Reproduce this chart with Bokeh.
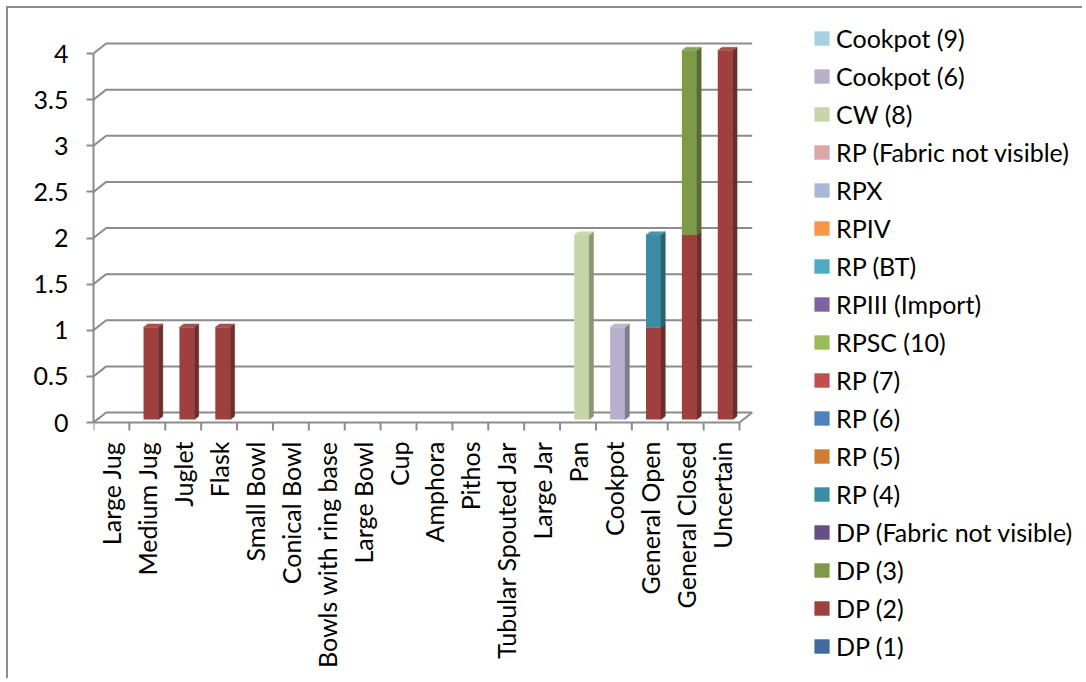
import math
from bokeh.plotting import figure
from bokeh.models import Range1d, FixedTicker, Legend, LegendItem, ColumnDataSource
from bokeh.core.properties import value
from bokeh.embed import file_html
from bokeh.resources import INLINE

# ---------------- data ----------------
CATEGORIES = ["Large Jug", "Medium Jug", "Juglet", "Flask", "Small Bowl", "Conical Bowl",
              "Bowls with ring base", "Large Bowl", "Cup", "Amphora", "Pithos",
              "Tubular Spouted Jar", "Large Jar", "Pan", "Cookpot", "General Open",
              "General Closed", "Uncertain"]

Y_TICKS = [0, 0.5, 1, 1.5, 2, 2.5, 3, 3.5, 4]
Y_TICK_LABELS = ["0", "0.5", "1", "1.5", "2", "2.5", "3", "3.5", "4"]

# series in stacking order (bottom -> top)
SERIES_NAMES = ["DP (1)", "DP (2)", "DP (3)", "DP (Fabric not visible)", "RP (4)", "RP (5)",
                "RP (6)", "RP (7)", "RPSC (10)", "RPIII (Import)", "RP (BT)", "RPIV", "RPX",
                "RP (Fabric not visible)", "CW (8)", "Cookpot (6)", "Cookpot (9)"]

DP_1 = [0, 0, 0, 0, 0, 0, 0, 0, 0, 0, 0, 0, 0, 0, 0, 0, 0, 0]
DP_2 = [0, 1, 1, 1, 0, 0, 0, 0, 0, 0, 0, 0, 0, 0, 0, 1, 2, 4]
DP_3 = [0, 0, 0, 0, 0, 0, 0, 0, 0, 0, 0, 0, 0, 0, 0, 0, 2, 0]
DP_FNV = [0, 0, 0, 0, 0, 0, 0, 0, 0, 0, 0, 0, 0, 0, 0, 0, 0, 0]
RP_4 = [0, 0, 0, 0, 0, 0, 0, 0, 0, 0, 0, 0, 0, 0, 0, 1, 0, 0]
RP_5 = [0, 0, 0, 0, 0, 0, 0, 0, 0, 0, 0, 0, 0, 0, 0, 0, 0, 0]
RP_6 = [0, 0, 0, 0, 0, 0, 0, 0, 0, 0, 0, 0, 0, 0, 0, 0, 0, 0]
RP_7 = [0, 0, 0, 0, 0, 0, 0, 0, 0, 0, 0, 0, 0, 0, 0, 0, 0, 0]
RPSC_10 = [0, 0, 0, 0, 0, 0, 0, 0, 0, 0, 0, 0, 0, 0, 0, 0, 0, 0]
RPIII_IMPORT = [0, 0, 0, 0, 0, 0, 0, 0, 0, 0, 0, 0, 0, 0, 0, 0, 0, 0]
RP_BT = [0, 0, 0, 0, 0, 0, 0, 0, 0, 0, 0, 0, 0, 0, 0, 0, 0, 0]
RPIV = [0, 0, 0, 0, 0, 0, 0, 0, 0, 0, 0, 0, 0, 0, 0, 0, 0, 0]
RPX = [0, 0, 0, 0, 0, 0, 0, 0, 0, 0, 0, 0, 0, 0, 0, 0, 0, 0]
RP_FNV = [0, 0, 0, 0, 0, 0, 0, 0, 0, 0, 0, 0, 0, 0, 0, 0, 0, 0]
CW_8 = [0, 0, 0, 0, 0, 0, 0, 0, 0, 0, 0, 0, 0, 2, 0, 0, 0, 0]
COOKPOT_6 = [0, 0, 0, 0, 0, 0, 0, 0, 0, 0, 0, 0, 0, 0, 1, 0, 0, 0]
COOKPOT_9 = [0, 0, 0, 0, 0, 0, 0, 0, 0, 0, 0, 0, 0, 0, 0, 0, 0, 0]

SERIES_VALUES = [DP_1, DP_2, DP_3, DP_FNV, RP_4, RP_5, RP_6, RP_7, RPSC_10, RPIII_IMPORT,
                 RP_BT, RPIV, RPX, RP_FNV, CW_8, COOKPOT_6, COOKPOT_9]

COLORS = ["#3F6B9F", "#9E413E", "#7E9A48", "#664F86", "#3B8CA4", "#CF7E38", "#4F81BD",
          "#C0504D", "#9BBB59", "#8064A2", "#4BACC6", "#F79646", "#A7B9D9", "#D9A7A6",
          "#C6D6AA", "#B8AFCB", "#A6D1DE"]

# ---------------- layout / style ----------------
FONT = "Lato"
FSIZE = "25px"
GRID = "#8C8C8C"
W, H = 1076, 672
FL = 85           # frame left (figure px) -> y axis line
FB = 414          # figure px of value 0 (floor front edge)
n = len(CATEGORIES)
PX_X = 646.0 / n  # px per category
PX_Y = 92.25      # px per unit
x0 = -0.5
x1 = x0 + (W - FL) / PX_X
y0 = -(H - FB) / PX_Y
y1 = FB / PX_Y

# pseudo-3D offsets
DX, DY = 12.7 / PX_X, 10.0 / PX_Y          # wall depth
BW = 15.0 / PX_X                            # bar front width
BDX, BDY = 3.7 / PX_X, 3.0 / PX_Y          # bar position in depth
DDX, DDY = 4.3 / PX_X, 3.3 / PX_Y          # bar depth
TICK = 8 / PX_Y
LABEL_OFF = 19 / PX_Y


def shade(hexcol, f):
    r, g, b = int(hexcol[1:3], 16), int(hexcol[3:5], 16), int(hexcol[5:7], 16)
    if f < 1:
        r, g, b = int(r * f), int(g * f), int(b * f)
    else:
        r, g, b = [int(c + (255 - c) * (f - 1)) for c in (r, g, b)]
    return "#%02X%02X%02X" % (r, g, b)


p = figure(width=W, height=H, x_range=Range1d(x0, x1), y_range=Range1d(y0, y1),
           output_backend="svg", toolbar_location=None, x_axis_location=None,
           min_border_left=FL, min_border_top=0, min_border_bottom=0, min_border_right=0)
p.outline_line_color = None
p.grid.visible = False
p.background_fill_color = "white"
p.border_fill_color = "white"
p.styles = {"margin-left": "8px", "margin-top": "8px", "box-shadow": "-2px -2px 0 0 #8C8C8C"}

# back wall grid lines + floor + category axis line and ticks
wall_xs = [[x0, x0 + DX, x0 + n + DX] for v in Y_TICKS]
wall_ys = [[v, v + DY, v + DY] for v in Y_TICKS]
wall_xs.append([x0 + n + DX, x0 + n])
wall_ys.append([DY, 0])
wall_xs.append([x0, x0 + n])
wall_ys.append([0, 0])
for i in range(n + 1):
    wall_xs.append([x0 + i, x0 + i])
    wall_ys.append([0, -TICK])
p.multi_line(wall_xs, wall_ys, line_color=GRID, line_width=2)

# bars
cum = [0.0] * n
totals = [sum(col) for col in zip(*SERIES_VALUES)]
renderers = []
side_xs, side_ys, side_c = [], [], []
top_xs, top_ys, top_c = [], [], []
for name, vals, col in zip(SERIES_NAMES, SERIES_VALUES, COLORS):
    d = dict(x=[], bottom=[], top=[])
    for i, v in enumerate(vals):
        b = cum[i]
        t = b + v
        xc = i + BDX
        d["x"].append(xc)
        d["bottom"].append(b + BDY)
        d["top"].append(t + BDY)
        if v > 0:
            xl, xr = xc - BW / 2, xc + BW / 2
            side_xs.append([xr, xr + DDX, xr + DDX, xr])
            side_ys.append([b + BDY, b + BDY + DDY, t + BDY + DDY, t + BDY])
            side_c.append(shade(col, 0.7))
            if t == totals[i]:
                top_xs.append([xl, xr, xr + DDX, xl + DDX])
                top_ys.append([t + BDY, t + BDY, t + BDY + DDY, t + BDY + DDY])
                top_c.append(shade(col, 1.08))
        cum[i] = t
    r = p.vbar(x="x", width=BW, bottom="bottom", top="top", source=ColumnDataSource(d),
               fill_color=col, line_color=None)
    renderers.append(r)

p.patches(side_xs, side_ys, fill_color=side_c, line_color=side_c, line_width=0.5)
p.patches(top_xs, top_ys, fill_color=top_c, line_color=top_c, line_width=0.5)

# category labels (vertical, reading bottom-to-top)
p.text(x=list(range(n)), y=[-LABEL_OFF] * n, text=CATEGORIES, angle=math.pi / 2,
       text_align="right", text_baseline="middle", text_font=value(FONT),
       text_font_size=FSIZE, text_color="black")

# value axis
ya = p.yaxis[0]
ya.ticker = FixedTicker(ticks=Y_TICKS, minor_ticks=[])
ya.major_label_overrides = dict(zip(Y_TICKS, Y_TICK_LABELS))
ya.bounds = (0, 4)
ya.major_tick_in = 0
ya.major_tick_out = 7
ya.major_tick_line_color = GRID
ya.major_tick_line_width = 2
ya.axis_line_color = GRID
ya.axis_line_width = 2
ya.major_label_standoff = 18
ya.major_label_text_font = FONT
ya.major_label_text_font_size = FSIZE
ya.major_label_text_color = "black"

# legend (reversed order, as in the reference)
items = [LegendItem(label=nm, renderers=[r]) for nm, r in zip(SERIES_NAMES, renderers)][::-1]
legend = Legend(items=items, location=(719, 15), orientation="vertical",
                border_line_color=None, background_fill_alpha=0,
                label_text_font=FONT, label_text_font_size=FSIZE, label_text_color="black",
                glyph_width=19, glyph_height=18, label_standoff=5, label_height=38,
                spacing=0, padding=0, margin=0)
p.add_layout(legend)

open("out.html", "w").write(file_html(p, INLINE))
